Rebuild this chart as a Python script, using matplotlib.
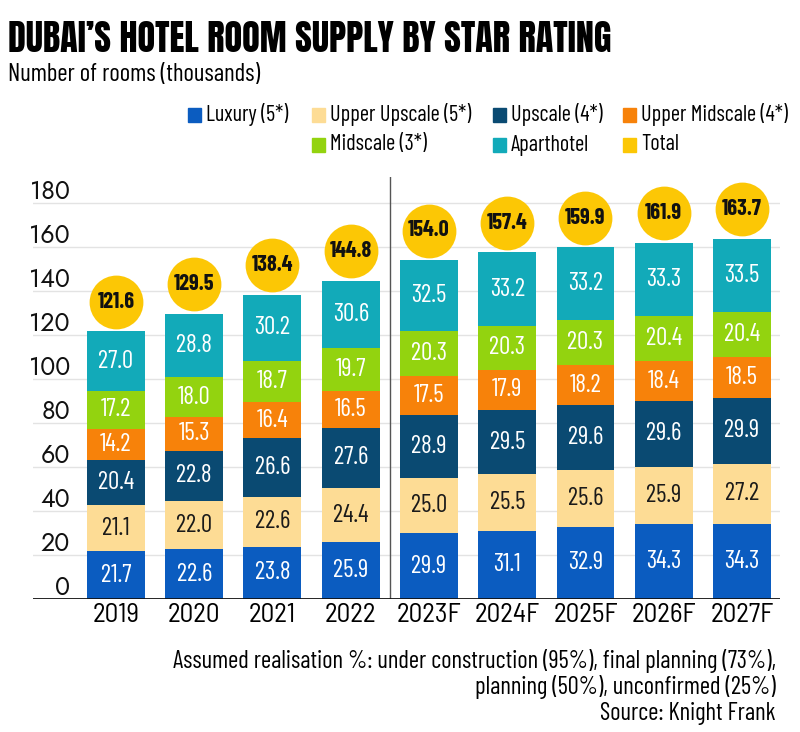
import numpy as np
import matplotlib.pyplot as plt
from matplotlib.patches import Rectangle

years = ['2019', '2020', '2021', '2022', '2023F', '2024F', '2025F', '2026F', '2027F']
luxury = [21.7, 22.6, 23.8, 25.9, 29.9, 31.1, 32.9, 34.3, 34.3]
upper_upscale = [21.1, 22.0, 22.6, 24.4, 25.0, 25.5, 25.6, 25.9, 27.2]
upscale = [20.4, 22.8, 26.6, 27.6, 28.9, 29.5, 29.6, 29.6, 29.9]
upper_midscale = [14.2, 15.3, 16.4, 16.5, 17.5, 17.9, 18.2, 18.4, 18.5]
midscale = [17.2, 18.0, 18.7, 19.7, 20.3, 20.3, 20.3, 20.4, 20.4]
aparthotel = [27.0, 28.8, 30.2, 30.6, 32.5, 33.2, 33.2, 33.3, 33.5]
totals = [121.6, 129.5, 138.4, 144.8, 154.0, 157.4, 159.9, 161.9, 163.7]

series = [
    ('Luxury (5*)', luxury, '#0b5cc0', 'white'),
    ('Upper Upscale (5*)', upper_upscale, '#fddc95', '#1a1a1a'),
    ('Upscale (4*)', upscale, '#0a4a72', 'white'),
    ('Upper Midscale (4*)', upper_midscale, '#f7820a', 'white'),
    ('Midscale (3*)', midscale, '#93d30f', 'white'),
    ('Aparthotel', aparthotel, '#12aab9', 'white'),
]
total_color = '#fcc705'

plt.rcParams['font.family'] = ['Barlow Condensed', 'DejaVu Sans']
tick_font = ['Jost', 'DejaVu Sans']
title_font = ['Anton', 'Oswald', 'Barlow Condensed', 'DejaVu Sans']

fig = plt.figure(figsize=(8, 7.32), dpi=100)
ax = fig.add_axes([33/800, 1-599/732, 747/800, (599-176.6)/732])

x = np.arange(len(years))
bottom = np.zeros(len(years))
for label, vals, color, tcolor in series:
    vals = np.array(vals)
    ax.bar(x, vals, width=0.74, bottom=bottom, color=color, zorder=3)
    for xi, b, v in zip(x, bottom, vals):
        ax.text(xi, b + v/2, f'{v:.1f}', ha='center', va='center',
                color=tcolor, fontsize=18, zorder=4)
    bottom += vals

# yellow total bubbles above each stack
ax.scatter(x, np.array(totals) + 13.5, s=1500, color=total_color, zorder=4, linewidths=0)
for xi, t in zip(x, totals):
    ax.text(xi, t + 13.5, f'{t:.1f}', ha='center', va='center', fontsize=16,
            fontweight='bold', color='#111111', zorder=5)

ax.set_xlim(-1.06, 8.486)
ax.set_ylim(0, 192)
for v in range(0, 181, 20):
    ax.axhline(v, color='#e3e3e3', lw=1, zorder=1)
    ax.text(-0.59, v + 2, str(v), ha='right', va='baseline', fontsize=18,
            family=tick_font, color='#111111')
ax.axvline(3.5, color='#555555', lw=1, zorder=2)
ax.axhline(0, color='#111111', lw=2, zorder=5)

for s in ax.spines.values():
    s.set_visible(False)
ax.set_yticks([])
ax.set_xticks(x)
ax.set_xticklabels(years, fontsize=19.5, family=['Barlow Semi Condensed', 'Barlow Condensed'])
ax.tick_params(axis='x', length=0, pad=3)

fig.text(8/800, 1-52/732, 'DUBAI\u2019S HOTEL ROOM SUPPLY BY STAR RATING', fontsize=26,
         family=title_font, ha='left', va='baseline')
fig.text(8/800, 1-81/732, 'Number of rooms (thousands)', fontsize=18, ha='left', va='baseline')

legend_items = [
    (188, 115, 'Luxury (5*)', '#0b5cc0'),
    (312, 115, 'Upper Upscale (5*)', '#fddc95'),
    (493, 115, 'Upscale (4*)', '#0a4a72'),
    (623, 115, 'Upper Midscale (4*)', '#f7820a'),
    (312, 145, 'Midscale (3*)', '#93d30f'),
    (493, 145, 'Aparthotel', '#12aab9'),
    (623, 145, 'Total', total_color),
]
for px, py, lab, col in legend_items:
    fig.add_artist(Rectangle((px/800, 1-(py+7)/732), 13/800, 14/732, color=col,
                             transform=fig.transFigure))
    fig.text((px+18)/800, 1-py/732, lab, fontsize=16, ha='left', va='center')

fig.text(776/800, 1-668/732, 'Assumed realisation %: under construction (95%), final planning (73%),',
         fontsize=17.8, ha='right', va='baseline')
fig.text(776/800, 1-694/732, 'planning (50%), unconfirmed (25%)',
         fontsize=17.8, ha='right', va='baseline')
fig.text(776/800, 1-720/732, 'Source: Knight Frank',
         fontsize=17.8, ha='right', va='baseline')

fig.savefig('out.png', dpi=100, facecolor='white')
